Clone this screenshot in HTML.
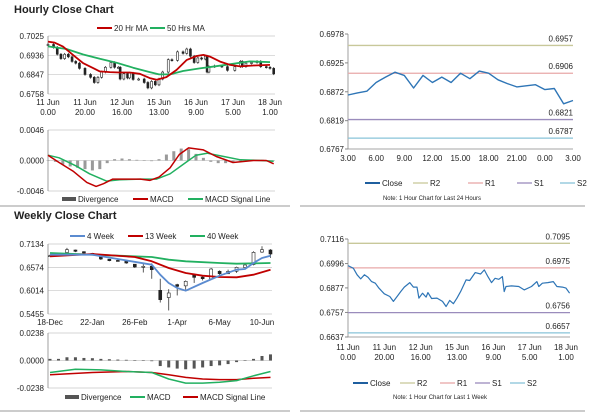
<!DOCTYPE html>
<html><head><meta charset="utf-8"><style>
body{margin:0;background:#fff}
svg{display:block;font-family:"Liberation Sans",Arial,sans-serif}
text{fill:#222}
</style></head><body>
<svg id="c" width="600" height="413" viewBox="0 0 600 413"></svg>
<script>
// ---------- DATA ----------
const hrHours=[0,3,5,7,9,11,13,15,17,20,23,25,27,29,31,34,36,38,39,41,43,44,46,49,52,54,56,58,60,62,65,67,70,73,75,77,79,81,83,85,86,87,90,94,97,101,104,105,107,110,113,115,118,120,122];
const hrClose=[0.6986,0.6973,0.6941,0.6921,0.6941,0.6929,0.6908,0.6900,0.6876,0.6848,0.6835,0.6811,0.6835,0.6859,0.6881,0.6903,0.6881,0.6881,0.6827,0.6851,0.6832,0.6854,0.6825,0.6827,0.6811,0.6786,0.6816,0.6800,0.6827,0.6859,0.6916,0.6913,0.6952,0.6945,0.6965,0.6932,0.6903,0.6924,0.6919,0.6932,0.6859,0.6884,0.6887,0.6884,0.6867,0.6884,0.6908,0.6884,0.6900,0.6903,0.6908,0.6884,0.6881,0.6876,0.6851];
const ma20Hours=[0,3.6,8.1,13.5,19,24.4,28,33.4,38.8,44.2,49.6,55,58.7,64,69.5,75,80.3,84,87.5,93,98.4,103.8,111,120];
const ma20=[0.6999,0.6994,0.6976,0.6938,0.6900,0.6877,0.6862,0.6859,0.6857,0.6857,0.6851,0.6831,0.6824,0.6836,0.6869,0.6915,0.6933,0.6938,0.6930,0.6907,0.6892,0.6885,0.6889,0.6892];
const ma50Hours=[0,10,19,28,37,46,55,60,66,73,82,91,100,109,120];
const ma50=[0.6977,0.6965,0.6940,0.6920,0.6902,0.6879,0.6859,0.6848,0.6848,0.6864,0.6876,0.6886,0.6897,0.6908,0.6905];
const macdHours=[0,6,13.5,21,26,30,35,42,50,55,60,66,71,76,84,91,100,111,118,122];
const macdH=[0.0008,-0.0003,-0.0016,-0.0033,-0.0039,-0.0035,-0.0028,-0.0028,-0.0028,-0.0030,-0.0025,-0.0011,0.0009,0.0019,0.0016,0.0006,-0.0003,0,0,-0.0005];
const sigHours=[0,6,15,22.5,31.6,38.8,50,58.7,66,73,80,86,95,104,115,122];
const sigH=[0.0008,0.0004,-0.0008,-0.0020,-0.0031,-0.0029,-0.0028,-0.0028,-0.0020,-0.0006,0.0008,0.0011,0.0006,0.0001,0,-0.0001];
const divHours=[0,4,8,12,16,20,24,28,32,36,40,44,48,52,56,60,64,68,72,76,80,84,88,92,96,100,104,108,112,116,120];
const divH=[0,-0.0002,-0.0006,-0.0009,-0.0011,-0.0013,-0.0015,-0.0013,-0.0004,0.0002,0.0003,0.0002,0.0001,0,-0.0001,0.0002,0.0009,0.0014,0.0018,0.0017,0.0010,0.0004,-0.0002,-0.0004,-0.0004,-0.0003,-0.0001,0,0.0001,0.0001,-0.0002];
const hrTickLabels=[["11 Jun","0.00"],["11 Jun","20.00"],["12 Jun","16.00"],["15 Jun","13.00"],["16 Jun","9.00"],["17 Jun","5.00"],["18 Jun","1.00"]];
const dayHours=[3,4,5,6,7,8,9,10,11,12,13,14,15,16,17,18,19,20,21,22,23,24,25,26,27];
const dayClose=[0.6866,0.6870,0.6873,0.6889,0.6899,0.6908,0.6902,0.6879,0.6902,0.6889,0.6899,0.6889,0.6906,0.6896,0.6910,0.6906,0.6894,0.6887,0.6881,0.6883,0.6885,0.6876,0.6878,0.6850,0.6856];
const dayTickLabels=["3.00","6.00","9.00","12.00","15.00","18.00","21.00","0.00","3.00"];
const dayLevels=[0.6957,0.6906,0.6821,0.6787];
const weekLevels=[0.7095,0.6975,0.6756,0.6657];
const wkOpen =[0.6840,0.6870,0.6930,0.6990,0.6950,0.6910,0.6860,0.6770,0.6740,0.6730,0.6650,0.6590,0.6600,0.6023,0.5850,0.6160,0.6130,0.6398,0.6340,0.6300,0.6480,0.6420,0.6480,0.6570,0.6640,0.6940,0.6990];
const wkClose=[0.6854,0.6918,0.6998,0.6958,0.6918,0.6878,0.6774,0.6734,0.6734,0.6678,0.6582,0.6598,0.6518,0.5799,0.5959,0.6119,0.6239,0.6334,0.6302,0.6534,0.6422,0.6478,0.6574,0.6630,0.6934,0.6998,0.6894];
const wkHigh =[0.6880,0.6930,0.7040,0.7000,0.6960,0.6920,0.6800,0.6760,0.6760,0.6700,0.6610,0.6660,0.6670,0.6300,0.6050,0.6180,0.6260,0.6420,0.6360,0.6560,0.6500,0.6520,0.6590,0.6650,0.6960,0.7080,0.7010];
const wkLow  =[0.6830,0.6860,0.6920,0.6940,0.6900,0.6860,0.6750,0.6720,0.6720,0.6660,0.6560,0.6450,0.6300,0.5730,0.5540,0.5900,0.6040,0.6200,0.6260,0.6280,0.6380,0.6420,0.6440,0.6560,0.6620,0.6920,0.6800];
const wk4Weeks=[0,5,8,12,13,14,15,16,18,20,22,23,24,25,26];
const wk4=[0.6878,0.6878,0.6774,0.6638,0.6398,0.6199,0.6079,0.6015,0.6199,0.6374,0.6518,0.6534,0.6678,0.6798,0.6854];
const wk13Weeks=[0,5,10,12,14,16,18,20,22,24,26];
const wk13=[0.6838,0.6894,0.6822,0.6718,0.6558,0.6438,0.6374,0.6343,0.6335,0.6398,0.6518];
const wk40Weeks=[0,5,12,14,16,20,22,26];
const wk40=[0.6918,0.6878,0.6822,0.6758,0.6718,0.6678,0.6662,0.6678];
const wkDiv=[0.0014,0.0014,0.0028,0.0028,0.0022,0.0020,0.0014,0.0011,0.0008,0.0006,0.0003,0,-0.0006,-0.0048,-0.0060,-0.0070,-0.0076,-0.0070,-0.0060,-0.0048,-0.0042,-0.0031,-0.0014,-0.0003,0.0014,0.0039,0.0053];
const wkMacdWeeks=[0,3,6,9,12,14,16,18,20,22,24,26];
const wkMacd=[-0.0104,-0.0076,-0.0081,-0.0095,-0.0104,-0.0160,-0.0196,-0.0196,-0.0188,-0.0174,-0.0132,-0.0095];
const wkSigWeeks=[0,5,9,12,14,16,18,20,22,24,26];
const wkSig=[-0.0123,-0.0104,-0.0095,-0.0104,-0.0123,-0.0146,-0.0160,-0.0165,-0.0165,-0.0154,-0.0146];
const wkTickLabels=["18-Dec","22-Jan","26-Feb","1-Apr","6-May","10-Jun"];

// ---------- HELPERS ----------
const svg=document.getElementById('c');const NS='http://www.w3.org/2000/svg';
function el(tag,attrs,parent){const e=document.createElementNS(NS,tag);for(const k in attrs)e.setAttribute(k,attrs[k]);(parent||svg).appendChild(e);return e;}
function txt(x,y,s,size,anchor,weight){const t=el('text',{x:x,y:y,'font-size':size||8,'text-anchor':anchor||'start'});if(weight)t.setAttribute('font-weight',weight);t.textContent=s;return t;}
function lin(d0,d1,r0,r1){return v=>r0+(v-d0)/(d1-d0)*(r1-r0);}
function poly(xs,ys,sx,sy,color,w,name){const p=xs.map((x,i)=>sx(x).toFixed(1)+','+sy(ys[i]).toFixed(1)).join(' ');const e=el('polyline',{points:p,fill:'none',stroke:color,'stroke-width':w||1.5,'stroke-linejoin':'round'});return e;}
function yAxis(x,x2,vals,sy,fmt){vals.forEach(v=>{el('line',{x1:x,x2:x2,y1:sy(v),y2:sy(v),stroke:'#c8c8c8','stroke-width':0.7});const t=txt(x-4,sy(v)+3,fmt(v),8,'end');});}
function vline(x,y1,y2){el('line',{x1:x,x2:x,y1:y1,y2:y2,stroke:'#888','stroke-width':0.8});}
function legLine(x,y,c,label,w){el('line',{x1:x,x2:x+15,y1:y,y2:y,stroke:c,'stroke-width':w||2});const t=txt(x+17,y+3,label,8);}
function legBox(x,y,label){el('rect',{x:x,y:y-2,width:14,height:4,fill:'#555'});const t=txt(x+16,y+3,label,8);}
function candles(xs,o,c,h,l,sx,sy,bw,name){xs.forEach((x,i)=>{const X=sx(x);el('line',{x1:X,x2:X,y1:sy(h[i]),y2:sy(l[i]),stroke:'#333','stroke-width':0.8});const top=sy(Math.max(o[i],c[i])),bot=sy(Math.min(o[i],c[i]));const r=el('rect',{x:X-bw/2,y:top,width:bw,height:Math.max(1,bot-top),fill:c[i]<o[i]?'#222':'#fff',stroke:'#222','stroke-width':0.6});});}
const f4=v=>v.toFixed(4);

// ---------- TITLES / DIVIDERS ----------
txt(14,13,'Hourly Close Chart',11,'start','bold');
txt(14,219,'Weekly Close Chart',11,'start','bold');
el('line',{x1:0,x2:290,y1:206,y2:206,stroke:'#999','stroke-width':1});
el('line',{x1:300,x2:585,y1:206,y2:206,stroke:'#999','stroke-width':1});
el('line',{x1:0,x2:290,y1:411,y2:411,stroke:'#999','stroke-width':1});
el('line',{x1:300,x2:585,y1:411,y2:411,stroke:'#999','stroke-width':1});

// ---------- HOURLY CANDLES ----------
(function(){const sx=lin(0,120,48,270),sy=lin(0.7025,0.6758,36,94);
yAxis(48,275,[0.7025,0.6936,0.6847,0.6758],sy,f4);vline(48,36,94);
const o=hrClose.map((v,i)=>i?hrClose[i-1]:v),h=hrClose.map((v,i)=>Math.max(v,o[i])+0.0006),l=hrClose.map((v,i)=>Math.min(v,o[i])-0.0006);
candles(hrHours,o,hrClose,h,l,sx,sy,2,'hourly-candle');
poly(ma50Hours,ma50,sx,sy,'#22b060',1.8,'ma50-line');
poly(ma20Hours,ma20,sx,sy,'#c00000',1.8,'ma20-line');
hrTickLabels.forEach((lb,i)=>{const X=sx(i*20);txt(X,105,lb[0],8,'middle');txt(X,115,lb[1],8,'middle');});
legLine(97,28,'#c00000','20 Hr MA');legLine(150,28,'#22b060','50 Hrs MA');
})();

// ---------- HOURLY MACD ----------
(function(){const sx=lin(0,120,48,270),sy=lin(0.0046,-0.0046,130,191);
yAxis(48,275,[0.0046,0,-0.0046],sy,f4);vline(48,130,191);
divHours.forEach((x,i)=>{const y0=sy(0),y1=sy(divH[i]);const r=el('rect',{x:sx(x)-1.5,y:Math.min(y0,y1),width:3,height:Math.max(0.5,Math.abs(y1-y0)),fill:'#9a9a9a'});});
poly(sigHours,sigH,sx,sy,'#22b060',1.5,'macd-signal-line');
poly(macdHours,macdH,sx,sy,'#c00000',1.5,'macd-line');
legBox(62,199,'Divergence');legLine(133,199,'#c00000','MACD');legLine(188,199,'#22b060','MACD Signal Line');
})();

// ---------- DAILY (24H) LEVELS ----------
const lvlColors=['#c8c89a','#e8a8a8','#9a8cbc','#88c4d8'];
(function(){const sx=lin(3,27,348,573),sy=lin(0.6978,0.6767,34,149);
[0.6978,0.6925,0.6872,0.6819,0.6767].forEach(v=>{txt(344,sy(v)+3,f4(v),8,'end');el('line',{x1:345,x2:348,y1:sy(v),y2:sy(v),stroke:'#888'});});
vline(348,34,149);el('line',{x1:348,x2:573,y1:149,y2:149,stroke:'#888','stroke-width':0.8});
dayLevels.forEach((v,i)=>{const l=el('line',{x1:348,x2:573,y1:sy(v),y2:sy(v),stroke:lvlColors[i],'stroke-width':1.3});txt(573,sy(v)-4,f4(v),8,'end');});
poly(dayHours,dayClose,sx,sy,'#2e75b6',1.4,'close-line');
dayTickLabels.forEach((lb,i)=>txt(sx(3+i*3),161,lb,8,'middle'));
legLine(365,183,'#1f5f9f','Close');legLine(413,183,lvlColors[0],'R2',1.3);legLine(468,183,lvlColors[1],'R1',1.3);legLine(517,183,lvlColors[2],'S1',1.3);legLine(560,183,lvlColors[3],'S2',1.3);
txt(432,200,'Note: 1 Hour Chart for Last 24 Hours',6,'middle');
})();

// ---------- WEEKLY CANDLES ----------
(function(){const sx=lin(0,25,50,262),sy=lin(0.7134,0.5455,244,314);
yAxis(48,272,[0.7134,0.6574,0.6014,0.5455],sy,f4);vline(48,244,314);
candles(wkOpen.map((v,i)=>i),wkOpen,wkClose,wkHigh,wkLow,sx,sy,3,'weekly-candle');
poly(wk40Weeks,wk40,sx,sy,'#22b060',1.8,'ma40-week-line');
poly(wk13Weeks,wk13,sx,sy,'#c00000',1.8,'ma13-week-line');
poly(wk4Weeks,wk4,sx,sy,'#5b8bd0',1.8,'ma4-week-line');
wkTickLabels.forEach((lb,i)=>txt(sx(i*5),325,lb,8,'middle'));
legLine(70,236,'#5b8bd0','4 Week');legLine(128,236,'#c00000','13 Week');legLine(190,236,'#22b060','40 Week');
})();

// ---------- WEEKLY MACD ----------
(function(){const sx=lin(0,25,50,262),sy=lin(0.0238,-0.0238,333,388);
yAxis(48,272,[0.0238,0,-0.0238],sy,f4);vline(48,333,388);
wkDiv.forEach((v,i)=>{const y0=sy(0),y1=sy(v);const r=el('rect',{x:sx(i)-1.5,y:Math.min(y0,y1),width:3,height:Math.max(0.5,Math.abs(y1-y0)),fill:'#555'});});
poly(wkSigWeeks,wkSig,sx,sy,'#c00000',1.5,'weekly-macd-signal-line');
poly(wkMacdWeeks,wkMacd,sx,sy,'#22b060',1.5,'weekly-macd-line');
legBox(65,397,'Divergence');legLine(130,397,'#22b060','MACD');legLine(183,397,'#c00000','MACD Signal Line');
})();

// ---------- WEEK (1H) LEVELS ----------
(function(){const sx=lin(0,120,348,566),sy=lin(0.7116,0.6637,239,337);
[0.7116,0.6996,0.6877,0.6757,0.6637].forEach(v=>{txt(344,sy(v)+3,f4(v),8,'end');el('line',{x1:345,x2:348,y1:sy(v),y2:sy(v),stroke:'#888'});});
vline(348,239,337);el('line',{x1:348,x2:570,y1:337,y2:337,stroke:'#888','stroke-width':0.8});
weekLevels.forEach((v,i)=>{const l=el('line',{x1:348,x2:570,y1:sy(v),y2:sy(v),stroke:lvlColors[i],'stroke-width':1.3});txt(570,sy(v)-4,f4(v),8,'end');});
poly(hrHours,hrClose,sx,sy,'#2e75b6',1.2,'weekly-close-line');
hrTickLabels.forEach((lb,i)=>{const X=sx(i*20);txt(X,350,lb[0],8,'middle');txt(X,360,lb[1],8,'middle');});
legLine(353,383,'#1f5f9f','Close');legLine(400,383,lvlColors[0],'R2',1.3);legLine(440,383,lvlColors[1],'R1',1.3);legLine(475,383,lvlColors[2],'S1',1.3);legLine(510,383,lvlColors[3],'S2',1.3);
txt(440,399,'Note: 1 Hour Chart for Last 1 Week',6,'middle');
})();
</script>
</body></html>
